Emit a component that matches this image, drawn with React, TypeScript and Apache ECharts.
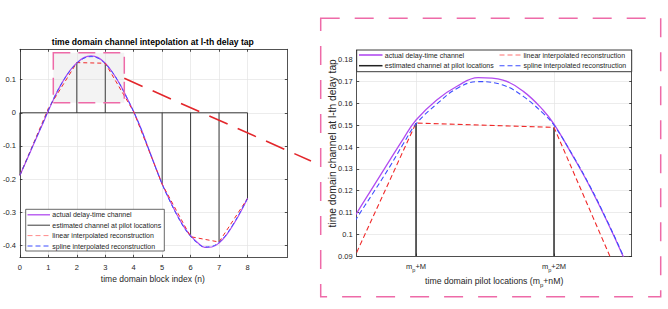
import React, { useEffect, useRef } from "react";
import * as echarts from "echarts";

// ---------- data ----------
const blockIndex = [0, 0.25, 0.5, 0.75, 1, 1.25, 1.5, 1.75, 2, 2.25, 2.5, 2.75, 3, 3.25, 3.5, 3.75, 4, 4.25, 4.5, 4.75, 5, 5.25, 5.5, 5.75, 6, 6.25, 6.5, 6.75, 7, 7.25, 7.5, 7.75, 8];
const actualChannel = [-0.188, -0.14, -0.091, -0.043, 0.006, 0.053, 0.093, 0.126, 0.15, 0.166, 0.171, 0.166, 0.149, 0.122, 0.088, 0.047, 0.003, -0.046, -0.103, -0.159, -0.214, -0.26, -0.303, -0.341, -0.37, -0.391, -0.405, -0.404, -0.392, -0.369, -0.337, -0.3, -0.258];
const splineChannel = [-0.188, -0.139, -0.09, -0.042, 0.008, 0.054, 0.093, 0.125, 0.149, 0.164, 0.169, 0.164, 0.148, 0.122, 0.088, 0.047, 0.003, -0.047, -0.104, -0.161, -0.215, -0.262, -0.305, -0.343, -0.372, -0.393, -0.404, -0.402, -0.39, -0.367, -0.335, -0.298, -0.258];

const pilotIndex = [0, 1, 2, 3, 4, 5, 6, 7, 8];
const pilotEstimate = [-0.188, 0.013, 0.151, 0.149, 0.003, -0.215, -0.373, -0.389, -0.258];

const insetIndex = [1.5, 1.57, 1.69, 1.81, 1.91, 2.0, 2.15, 2.3, 2.45, 2.63, 2.78, 2.92, 3.0, 3.14, 3.26, 3.38, 3.5, 3.6];
const insetActual = [0.102, 0.1096, 0.1218, 0.134, 0.144, 0.1524, 0.1616, 0.168, 0.1718, 0.1707, 0.1654, 0.157, 0.1505, 0.1355, 0.1218, 0.1065, 0.09, 0.075];
const insetSpline = [0.0995, 0.1073, 0.119, 0.131, 0.1417, 0.1506, 0.1597, 0.167, 0.17, 0.1684, 0.1631, 0.1555, 0.15, 0.1357, 0.1221, 0.1068, 0.0903, 0.0755];

const leftXTicks = [0, 1, 2, 3, 4, 5, 6, 7, 8];
const leftYTicks = [-0.4, -0.3, -0.2, -0.1, 0, 0.1];
const insetXTicks = [2, 3];
const insetXTickSuffix = ["+M", "+2M"];
const insetYTicks = [0.09, 0.1, 0.11, 0.12, 0.13, 0.14, 0.15, 0.16, 0.17, 0.18];

const legendNames = [
  "actual delay-time channel",
  "estimated channel at pilot locations",
  "linear interpolated reconstruction",
  "spline interpolated reconstruction",
];

const titleText = "time domain channel intepolation at l-th delay tap";
const leftXName = "time domain block index (n)";
const insetYName = "time domain channel at l-th delay tap";

// ---------- styles ----------
const FONT = "'Liberation Sans', Arial, Helvetica, sans-serif";
const AX = "#262626";
const GRID = "#e4e4e4";
const PURPLE = "#b24cf0";
const BLUE = "#3d4dff";
const RED = "#f02a2a";
const STEM = "#3a3a3a";
const PINK = "#ee6aa8";

const zip = (xs: number[], ys: number[]) => xs.map((x, i) => [x, ys[i]]);
const fmt = (v: number) => String(+Number(v).toFixed(4));

function boxAxes(gridIndex: number, min: number, max: number, ticks: number[], isX: boolean, labelOpts: any) {
  const common = (primary: boolean) => ({
    gridIndex,
    type: "value",
    min,
    max,
    position: isX ? (primary ? "bottom" : "top") : primary ? "left" : "right",
    axisLine: { show: true, onZero: false, lineStyle: { color: AX, width: 0.8 } },
    axisTick: { show: true, inside: true, length: 2.5, customValues: ticks, lineStyle: { color: AX, width: 0.8 } },
    axisLabel: primary ? { customValues: ticks, ...labelOpts } : { show: false },
    splitLine: primary ? { show: true, lineStyle: { color: GRID, width: 0.7 } } : { show: false },
  });
  return [common(true), common(false)];
}

function legendRow(x1: number, x2: number, y: number, tx: number, label: string, stroke: string, width: number, dash?: number[]) {
  return [
    { type: "line", z: 101, shape: { x1, y1: y, x2, y2: y }, style: { stroke, lineWidth: width, lineDash: dash || null } },
    { type: "text", z: 101, x: tx, y, style: { text: label, fontSize: 7, fontFamily: FONT, fill: AX, align: "left", verticalAlign: "middle" } },
  ];
}

export default function App() {
  const ref = useRef<HTMLDivElement>(null);
  useEffect(() => {
    if (!ref.current) return;
    const chart = echarts.init(ref.current, undefined, { renderer: "svg" });

    const tickLabel = { fontSize: 7.5, color: AX, fontFamily: FONT };
    const [lx0, lx1] = boxAxes(0, 0, 9.4, leftXTicks, true, { ...tickLabel, margin: 6, formatter: fmt });
    const [ly0, ly1] = boxAxes(0, -0.435, 0.191, leftYTicks, false, { ...tickLabel, margin: 4, formatter: fmt });
    const [rx0, rx1] = boxAxes(1, 1.57, 3.563, insetXTicks, true, {
      margin: 6,
      formatter: (v: number) => `{a|m}{s|p}{a|${insetXTickSuffix[insetXTicks.indexOf(v)]}}`,
      rich: {
        a: { fontSize: 7.5, color: AX, fontFamily: FONT, verticalAlign: "bottom", padding: [0, 0, 2.5, 0] },
        s: { fontSize: 5.5, color: AX, fontFamily: FONT, verticalAlign: "bottom" },
      },
    });
    const [ry0, ry1] = boxAxes(1, 0.09, 0.1845, insetYTicks, false, { ...tickLabel, margin: 4, formatter: fmt });

    const lineSeries = (name: string, xi: number, data: any[], color: string, width: number, dash: any, smooth: any, z: number) => ({
      name,
      type: "line",
      xAxisIndex: xi,
      yAxisIndex: xi,
      data,
      smooth,
      symbol: "none",
      showSymbol: false,
      clip: true,
      z,
      lineStyle: { color, width, type: dash },
      itemStyle: { color },
    });

    const leftLegendRows = [214.8, 225.2, 235.6, 246.0];
    const legendStyles: [string, number, number[] | undefined][] = [
      [PURPLE, 1.3, undefined],
      [STEM, 1, undefined],
      ["#ff8a8a", 1, [5, 3]],
      [BLUE, 1, [5, 3]],
    ];

    const graphics: any[] = [
      // zoom region on the left plot
      { type: "rect", z: 1, shape: { x: 53.3, y: 52.7, width: 71, height: 50 }, style: { fill: "rgba(220,220,220,0.35)" } },
      { type: "rect", z: 60, shape: { x: 53.3, y: 52.7, width: 71, height: 50 }, style: { fill: "none", stroke: PINK, lineWidth: 1.5, lineDash: [17, 8] } },
      // connector
      { type: "line", z: 60, shape: { x1: 124.3, y1: 78.3, x2: 311, y2: 161 }, style: { stroke: "#e3262b", lineWidth: 1.6, lineDash: [20, 11] } },
      // outer frame of inset
      { type: "rect", z: 60, shape: { x: 320.7, y: 18.3, width: 340, height: 278.4 }, style: { fill: "none", stroke: PINK, lineWidth: 1.5, lineDash: [19, 15] } },
      // title
      { type: "text", z: 100, x: 152.8, y: 42.3, style: { text: titleText, fontSize: 8.6, fontWeight: "bold", fontFamily: FONT, fill: "#000", align: "center", verticalAlign: "middle" } },
      // left x name
      { type: "text", z: 100, x: 152.8, y: 278.5, style: { text: leftXName, fontSize: 8.5, fontFamily: FONT, fill: AX, align: "center", verticalAlign: "middle" } },
      // inset y name
      { type: "text", z: 100, x: 332, y: 143.3, rotation: Math.PI / 2, style: { text: insetYName, fontSize: 10.3, fontFamily: FONT, fill: AX, align: "center", verticalAlign: "middle" } },
      // inset x name
      {
        type: "text", z: 100, x: 494.2, y: 282.5,
        style: {
          text: "{a|time domain pilot locations (m}{s|p}{a|+nM)}",
          align: "center", verticalAlign: "middle",
          rich: {
            a: { fontSize: 8.7, fontFamily: FONT, fill: AX, color: AX, verticalAlign: "bottom", padding: [0, 0, 2.5, 0] },
            s: { fontSize: 6, fontFamily: FONT, fill: AX, color: AX, verticalAlign: "bottom" },
          },
        },
      },
      // left legend
      { type: "rect", z: 100, shape: { x: 25.7, y: 209.3, width: 138.6, height: 41.7 }, style: { fill: "#fff", stroke: AX, lineWidth: 0.7 } },
      ...legendNames.flatMap((nm, i) => legendRow(27.5, 50, leftLegendRows[i], 52.3, nm, legendStyles[i][0], legendStyles[i][1], legendStyles[i][2])),
      // inset legend
      { type: "rect", z: 100, shape: { x: 356.7, y: 50, width: 275, height: 21.7 }, style: { fill: "#fff", stroke: AX, lineWidth: 0.9 } },
      ...legendRow(359, 382.5, 55, 384.8, legendNames[0], PURPLE, 1.6),
      ...legendRow(359, 382.5, 65.7, 384.8, legendNames[1], "#222", 1.5),
      ...legendRow(499.5, 521.5, 55, 523.5, legendNames[2], "#ff7070", 1, [5, 3]),
      ...legendRow(499.5, 521.5, 65.7, 523.5, legendNames[3], BLUE, 1.1, [5, 3]),
    ];

    chart.setOption({
      animation: false,
      backgroundColor: "#fff",
      textStyle: { fontFamily: FONT },
      grid: [
        { left: 18.3, top: 49.3, width: 269, height: 208, containLabel: false },
        { left: 356.7, top: 50, width: 275, height: 206, containLabel: false },
      ],
      xAxis: [lx0, lx1, rx0, rx1],
      yAxis: [ly0, ly1, ry0, ry1],
      series: [
        // left plot
        lineSeries(legendNames[0], 0, zip(blockIndex, actualChannel), PURPLE, 1.2, "solid", 0.4, 3),
        {
          name: legendNames[1], type: "bar", xAxisIndex: 0, yAxisIndex: 0, barWidth: 1, z: 2,
          data: zip(pilotIndex, pilotEstimate), itemStyle: { color: STEM },
        },
        lineSeries("baseline", 0, [[pilotIndex[0], 0], [pilotIndex[pilotIndex.length - 1], 0]], "#2a2a2a", 0.9, "solid", false, 2),
        lineSeries(legendNames[2], 0, zip(pilotIndex, pilotEstimate), RED, 1, [4, 3], false, 4),
        lineSeries(legendNames[3], 0, zip(blockIndex, splineChannel), BLUE, 1, [4, 3], 0.4, 5),
        // inset plot
        lineSeries(legendNames[0], 2, zip(insetIndex, insetActual), PURPLE, 1.3, "solid", 0.4, 3),
        {
          name: legendNames[1], type: "bar", xAxisIndex: 2, yAxisIndex: 2, barWidth: 1.5, z: 2, clip: true,
          data: zip(pilotIndex, pilotEstimate), itemStyle: { color: "#2a2a2a" },
        },
        lineSeries(legendNames[2], 2, zip(pilotIndex, pilotEstimate), RED, 1.1, [5, 3], false, 4),
        lineSeries(legendNames[3], 2, zip(insetIndex, insetSpline), BLUE, 1.1, [5, 3], 0.4, 5),
      ],
      graphic: graphics,
    });
    return () => chart.dispose();
  }, []);
  return <div ref={ref} style={{ position: "fixed", left: 0, top: 0, width: 668, height: 309 }} />;
}
